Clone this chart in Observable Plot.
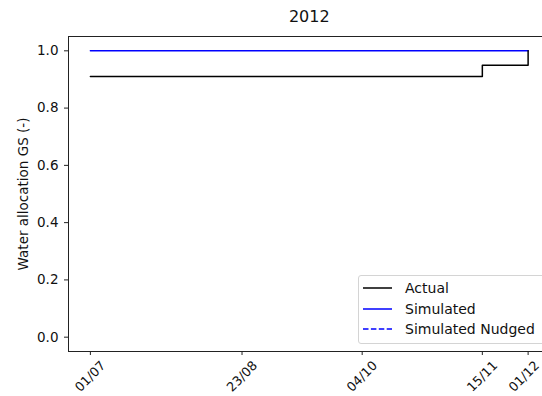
<!DOCTYPE html>
<html>
<head>
<meta charset="utf-8">
<script src="https://cdn.jsdelivr.net/npm/d3@7"></script>
<script src="https://cdn.jsdelivr.net/npm/@observablehq/plot@0.6"></script>
<style>
  html, body { margin: 0; padding: 0; background: #fff; overflow: hidden; }
  #chart { position: relative; width: 542px; height: 396px; overflow: hidden; font-family: "DejaVu Sans", sans-serif; }
  #chart svg { position: absolute; left: 0; top: 0; overflow: hidden; }
  .legend { position: absolute; left: 358px; top: 275px; width: 200px; height: 69px;
            border: 1px solid #d4d4d4; border-radius: 3px; background: rgba(255,255,255,0.85);
            box-sizing: border-box; font-size: 14px; color: #111; }
  .legend .row { position: absolute; left: 0; height: 20px; display: flex; align-items: center; }
  .legend svg { position: static !important; margin-left: 4px; margin-right: 13px; }
</style>
</head>
<body>
<div id="chart"></div>
<script>
// Season 2012: allocation for general security (GS) water
const title = "2012";
const yLabel = "Water allocation GS (-)";

// Announced allocation (steps)
const actualDates = ["2012-07-01", "2012-11-15", "2012-12-01"];
const actualValues = [0.91, 0.95, 1.0];

// Modelled allocation (the nudged run coincides with it and sits underneath)
const simDates = ["2012-07-01", "2012-12-01"];
const simValues = [1.0, 1.0];

// Axis ticks
const xTickDates = ["2012-07-01", "2012-08-23", "2012-10-04", "2012-11-15", "2012-12-01"];
const xTickLabels = ["01/07", "23/08", "04/10", "15/11", "01/12"];
const yTicks = [0, 0.2, 0.4, 0.6, 0.8, 1.0];

const seriesNames = ["Actual", "Simulated", "Simulated Nudged"];
const seriesColors = ["black", "blue", "blue"];
const seriesDash = [null, null, "5.5,2.4"];

const parse = d3.utcParse("%Y-%m-%d");
const actual = actualDates.map((d, i) => ({date: parse(d), value: actualValues[i]}));
const simulated = simDates.map((d, i) => ({date: parse(d), value: simValues[i]}));
const xTicks = xTickDates.map((d, i) => ({date: parse(d), label: xTickLabels[i]}));

// 5% padding on each side of the data span
const start = parse(simDates[0]), end = parse(simDates[1]);
const pad = (end - start) * 0.05;

// Rotated date labels; the last one is nudged in from the right edge
const tickText = (data, dx) => Plot.text(data, {
  x: "date", text: "label", frameAnchor: "bottom", dx, dy: 25, rotate: -45,
  textAnchor: "middle", lineAnchor: "middle", fontSize: 12.8, fill: "#111"
});

const plot = Plot.plot({
  width: 542,
  height: 396,
  marginLeft: 68,
  marginTop: 36,
  marginBottom: 45,
  marginRight: -7.5,
  style: {fontFamily: "DejaVu Sans", fontSize: "13.5px", color: "#111", background: "white"},
  x: {type: "utc", domain: [new Date(+start - pad), new Date(+end + pad)]},
  y: {domain: [-0.05, 1.05]},
  marks: [
    Plot.line(simulated, {x: "date", y: "value", stroke: seriesColors[1], strokeWidth: 1.5}),
    Plot.line(actual, {x: "date", y: "value", stroke: seriesColors[0], strokeWidth: 1.5, curve: "step-after"}),
    Plot.frame({stroke: "#222", strokeWidth: 1}),
    Plot.axisY(yTicks, {tickSize: 4, tickPadding: 6, tickFormat: d3.format(".1f"), label: null, fontSize: 13.5, stroke: "#222"}),
    Plot.axisX(xTicks.map(d => d.date), {tickSize: 4, tickFormat: () => "", label: null, stroke: "#222"}),
    tickText(xTicks.slice(0, -1), 0),
    tickText(xTicks.slice(-1), -4),
    Plot.text([title], {frameAnchor: "top", dy: -20, fontSize: 16, fill: "#111", lineAnchor: "middle"}),
    Plot.text([yLabel], {frameAnchor: "left", dx: -45, rotate: -90, textAnchor: "middle",
                         lineAnchor: "middle", fontSize: 13.5, fill: "#111"})
  ]
});

const chart = document.getElementById("chart");
chart.appendChild(plot);

// Legend box, lower right
const legend = document.createElement("div");
legend.className = "legend";
seriesNames.forEach((name, i) => {
  const row = document.createElement("div");
  row.className = "row";
  row.style.top = (2 + i * 20.5) + "px";
  const dash = seriesDash[i] ? ` stroke-dasharray="${seriesDash[i]}"` : "";
  row.innerHTML = `<svg width="29" height="6"><line x1="0" y1="3" x2="29" y2="3" stroke="${seriesColors[i]}" stroke-width="1.5"${dash}/></svg><span>${name}</span>`;
  legend.appendChild(row);
});
chart.appendChild(legend);
</script>
</body>
</html>
